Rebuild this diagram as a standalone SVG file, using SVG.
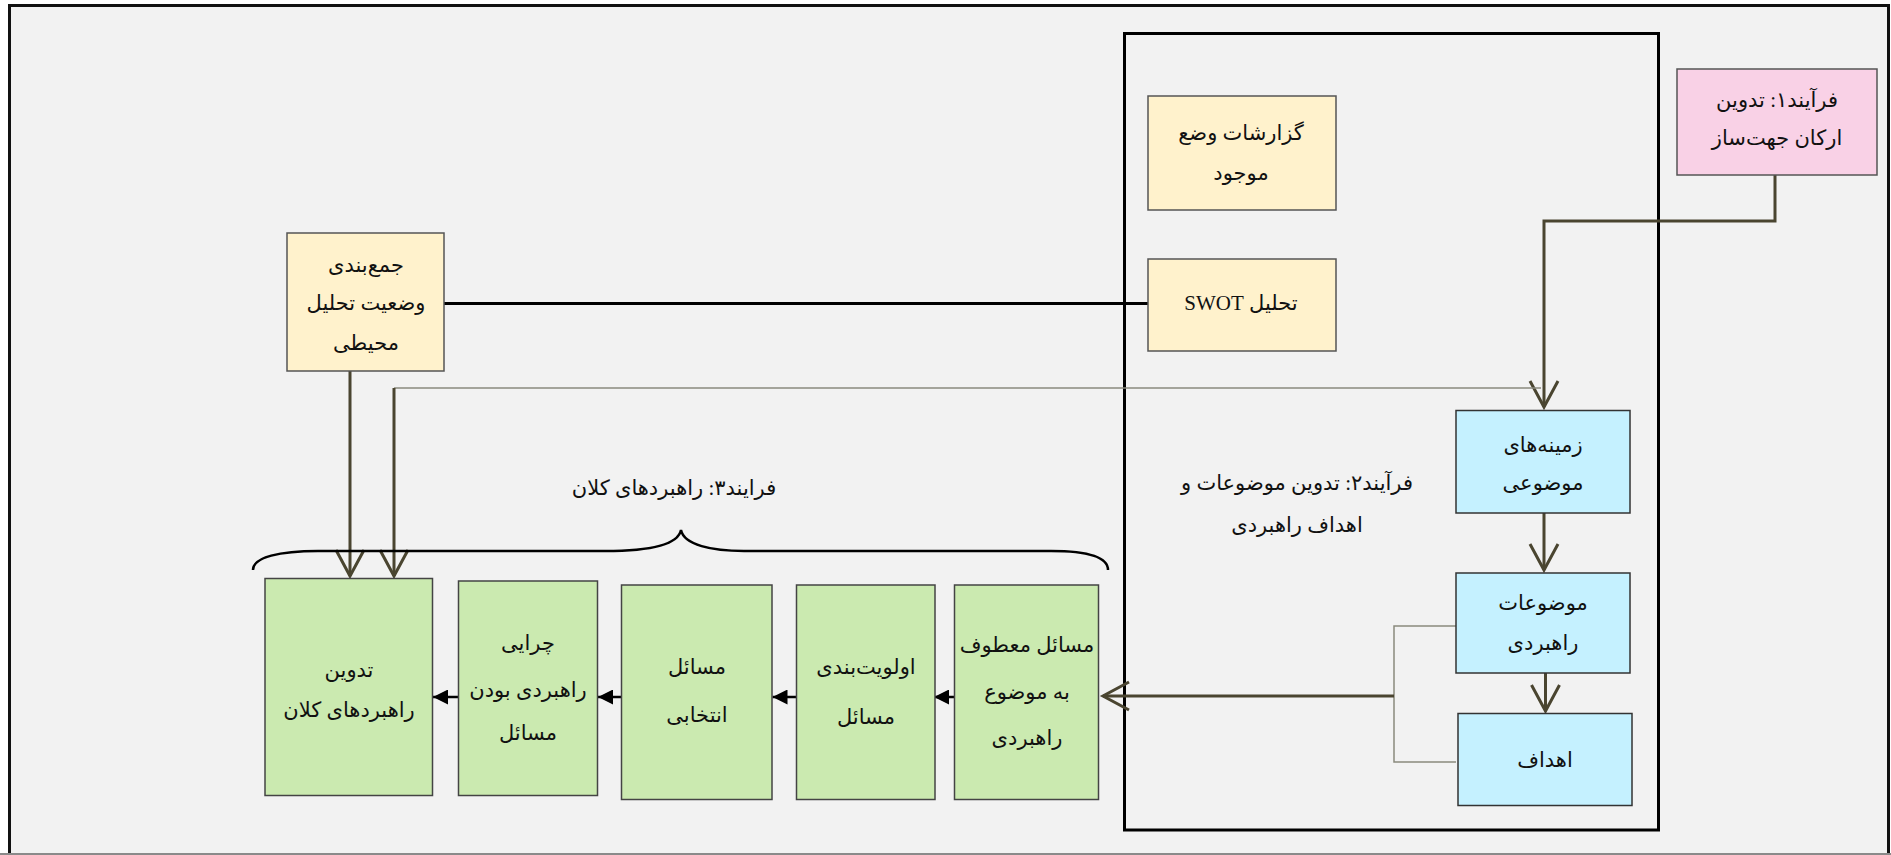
<svg xmlns="http://www.w3.org/2000/svg" width="1891" height="855" viewBox="0 0 1891 855">
<style>
.t{font-family:"Liberation Serif","DejaVu Sans",serif;font-size:21px;fill:#111;text-anchor:middle;dominant-baseline:central;direction:rtl;unicode-bidi:embed}
.yel{fill:#fff2cc;stroke:#555;stroke-width:1.5}
.pink{fill:#f9d1e6;stroke:#555;stroke-width:1.5}
.blue{fill:#c5f1ff;stroke:#333;stroke-width:1.5}
.green{fill:#cbeab0;stroke:#444;stroke-width:1.5}
.thick{fill:none;stroke:#4a4530;stroke-width:3}
.thin{fill:none;stroke:#8a8a7e;stroke-width:1.5}
.small{fill:none;stroke:#000;stroke-width:2.5}
</style>
<defs>
<marker id="open" markerUnits="userSpaceOnUse" viewBox="-2 -2 32 32" markerWidth="32" markerHeight="32" refX="26" refY="14" orient="auto">
<path d="M0,0 L26,14 L0,28" fill="none" stroke="#4a4530" stroke-width="3"/>
</marker>
<marker id="tri" markerUnits="userSpaceOnUse" viewBox="0 0 15 15" markerWidth="15" markerHeight="15" refX="15" refY="7.5" orient="auto">
<path d="M0,0 L15,7.5 L0,15 z" fill="#000"/>
</marker>
</defs>
<rect x="0" y="0" width="1891" height="855" fill="#fff"/>
<rect x="9.5" y="5.5" width="1879" height="860" fill="#f2f2f2" stroke="#111" stroke-width="3"/>
<line x1="0" y1="854" x2="1891" y2="854" stroke="#8a8a8a" stroke-width="2"/>

<g id="process2-frame">
<rect x="1124.5" y="33.5" width="534" height="796.5" fill="none" stroke="#000" stroke-width="3"/>
</g>

<g id="connectors">
<polyline class="thick" points="1775,175 1775,221 1544,221 1544,407" marker-end="url(#open)"/>
<line class="thick" x1="1544" y1="513" x2="1544" y2="570" marker-end="url(#open)"/>
<line class="thick" x1="1545.5" y1="655" x2="1545.5" y2="711" marker-end="url(#open)"/>
<polyline class="thin" points="1456,626 1394,626 1394,762 1456,762"/>
<line class="thick" x1="1394" y1="696" x2="1103" y2="696" marker-end="url(#open)"/>
<line x1="444" y1="303.5" x2="1148" y2="303.5" stroke="#000" stroke-width="3"/>
<line class="thick" x1="350" y1="371" x2="350" y2="576" marker-end="url(#open)"/>
<polyline class="thin" points="1541,388 394,388"/>
<line class="thick" x1="394" y1="388" x2="394" y2="576" stroke-width="2.5" marker-end="url(#open)"/>
<line class="small" x1="954" y1="697" x2="934" y2="697" marker-end="url(#tri)"/>
<line class="small" x1="796" y1="697" x2="772.5" y2="697" marker-end="url(#tri)"/>
<line class="small" x1="621" y1="697" x2="598" y2="697" marker-end="url(#tri)"/>
<line class="small" x1="458" y1="697" x2="433" y2="697" marker-end="url(#tri)"/>
<path d="M253,570 C253,557 280,551 318,551 L605,551 C650,551 678,545 681,530 C684,545 712,551 744,551 L1051,551 C1090,551 1108,558 1108,570" fill="none" stroke="#000" stroke-width="2.5"/>
</g>

<g id="n-process1">
<rect class="pink" x="1677" y="69" width="200" height="106"/>
<text class="t" x="1777" y="100">فرآیند۱: تدوین</text>
<text class="t" x="1777" y="138">ارکان جهت‌ساز</text>
</g>
<g id="n-reports">
<rect class="yel" x="1148" y="96" width="188" height="114"/>
<text class="t" x="1241" y="133">گزارشات وضع</text>
<text class="t" x="1241" y="173">موجود</text>
</g>
<g id="n-swot">
<rect class="yel" x="1148" y="259" width="188" height="92"/>
<text class="t" x="1241" y="303">تحلیل SWOT</text>
</g>
<g id="n-summary">
<rect class="yel" x="287" y="233" width="157" height="138"/>
<text class="t" x="366" y="265">جمع‌بندی</text>
<text class="t" x="366" y="303">وضعیت تحلیل</text>
<text class="t" x="366" y="343">محیطی</text>
</g>
<g id="n-fields">
<rect class="blue" x="1456" y="410.5" width="174" height="102.5"/>
<text class="t" x="1543" y="445">زمینه‌های</text>
<text class="t" x="1543" y="483">موضوعی</text>
</g>
<g id="n-topics">
<rect class="blue" x="1456" y="573" width="174" height="100"/>
<text class="t" x="1543" y="603">موضوعات</text>
<text class="t" x="1543" y="643">راهبردی</text>
</g>
<g id="n-goals">
<rect class="blue" x="1458" y="713.5" width="174" height="92"/>
<text class="t" x="1545" y="760">اهداف</text>
</g>
<g id="label-process2">
<text class="t" x="1297" y="483">فرآیند۲: تدوین موضوعات و</text>
<text class="t" x="1297" y="525">اهداف راهبردی</text>
</g>
<g id="label-process3">
<text class="t" x="674" y="488">فرایند۳: راهبردهای کلان</text>
</g>
<g id="n-macro">
<rect class="green" x="265" y="578.5" width="167.5" height="217"/>
<text class="t" x="349" y="670">تدوین</text>
<text class="t" x="349" y="710">راهبردهای کلان</text>
</g>
<g id="n-why">
<rect class="green" x="458.5" y="581" width="139" height="214.5"/>
<text class="t" x="528" y="643">چرایی</text>
<text class="t" x="528" y="690">راهبردی بودن</text>
<text class="t" x="528" y="733">مسائل</text>
</g>
<g id="n-selected">
<rect class="green" x="621.5" y="585" width="150.5" height="214.5"/>
<text class="t" x="697" y="667">مسائل</text>
<text class="t" x="697" y="715">انتخابی</text>
</g>
<g id="n-priority">
<rect class="green" x="796.5" y="585" width="138.5" height="214.5"/>
<text class="t" x="866" y="667">اولویت‌بندی</text>
<text class="t" x="866" y="717">مسائل</text>
</g>
<g id="n-issues">
<rect class="green" x="954.5" y="585" width="144" height="214.5"/>
<text class="t" x="1027" y="645">مسائل معطوف</text>
<text class="t" x="1027" y="692">به موضوع</text>
<text class="t" x="1027" y="738">راهبردی</text>
</g>
</svg>
